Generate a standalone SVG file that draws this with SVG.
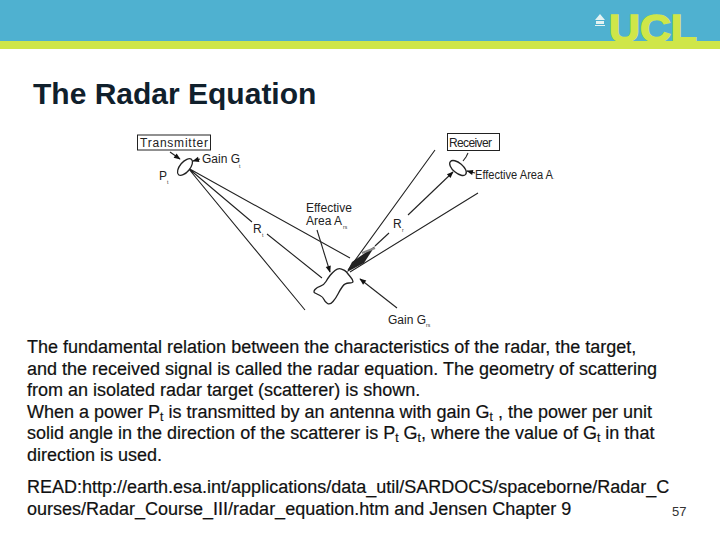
<svg xmlns="http://www.w3.org/2000/svg" width="720" height="540" viewBox="0 0 720 540">
<defs>
<style>
.b{font-family:"Liberation Sans",Arial,sans-serif;font-size:18px;fill:#111;stroke:#111;stroke-width:.2}
.l{font-family:"Liberation Sans",Arial,sans-serif;font-size:12px;fill:#222}
.s{font-family:"Liberation Sans",Arial,sans-serif;font-size:5px;fill:#333}
.w{fill:none;stroke:#222;stroke-width:1.1}
</style>
<marker id="a" viewBox="0 0 10 10" refX="9" refY="5" markerWidth="7" markerHeight="6" orient="auto"><path d="M0 1L10 5L0 9Z" fill="#111"/></marker>
</defs>
<rect width="720" height="540" fill="#fff"/>
<g id="header">
<rect width="720" height="41" fill="#4fb1d0"/>
<rect y="41" width="720" height="8" fill="#cfe649"/>
<path d="M595 20L600 14L605 20ZM596 21H604V24H596ZM595 25H605V26H595Z" fill="#e4f3f2"/>
<text x="609" y="42" textLength="88" lengthAdjust="spacingAndGlyphs" font-family="'Liberation Sans',Arial,sans-serif" font-weight="700" font-size="39" fill="#cfe649" stroke="#cfe649" stroke-width="1.500">UCL</text>
</g>
<text x="33" y="104" font-family="'Liberation Sans',Arial,sans-serif" font-weight="700" font-size="30" fill="#10202c">The Radar Equation</text>
<g id="connectors" class="conn">
<path class="w" d="M188 168L350 258M188 168L252 222M267 234L322 278M188 168L305 310M348 270L435 150M350 272L478 193"/>
<path class="w" d="M170 152L180 159" marker-end="url(#a)"/>
<path class="w" d="M200 159L193 161" marker-end="url(#a)"/>
<path class="w" d="M317 230L330 272" marker-end="url(#a)"/>
<path class="w" d="M397 308L360 279" marker-end="url(#a)"/>
<path class="w" d="M408 215L453 172" marker-end="url(#a)"/>
<path class="w" d="M389 233L375 246"/>
<path d="M347 272L352 262L375 246L364 263Z" fill="#222"/>
<path d="M362 253L375 248" stroke="#888" stroke-width="2" fill="none"/>
<path class="w" d="M468 153L466 157L463 161"/>
<path class="w" d="M475 173L467 171" marker-end="url(#a)"/>
</g>
<g id="transmitter">
<rect x="137.500" y="135" width="73" height="15" fill="#fff" stroke="#222"/>
<text class="l" x="140" y="147" textLength="68" lengthAdjust="spacing">Transmitter</text>
<ellipse cx="185" cy="167" rx="10" ry="5" transform="rotate(-50 185 167)" fill="#fff" stroke="#222" stroke-width="1.300"/>
<text class="l" x="202" y="163">Gain G</text>
<text class="s" x="239" y="168">t</text>
<text class="l" x="159" y="180">P</text>
<text class="s" x="167" y="184">t</text>
</g>
<g id="receiver">
<rect x="447.500" y="133.500" width="52" height="17" fill="#fff" stroke="#222"/>
<text class="l" x="449" y="147" textLength="43" lengthAdjust="spacing">Receiver</text>
<ellipse cx="458" cy="168" rx="10" ry="5" transform="rotate(40 458 168)" fill="#fff" stroke="#222" stroke-width="1.300"/>
<text class="l" x="475" y="179" textLength="78" lengthAdjust="spacingAndGlyphs">Effective Area A</text>
<text class="s" x="553" y="179">.</text>
</g>
<g id="target">
<path d="M315 289.500Q317 287 320.500 286Q324 285 326 281.500Q328 278 330 275.500Q332 273 335 270.500Q338 268 341.500 269Q345 270 346.500 272Q348 274 350.500 277Q353 280 353 281.500Q353 283 349 283Q345 283 342.500 286.500Q340 290 338 294Q336 298 333 301.500Q330 305 327.500 303.500Q325 302 324 299.500Q323 297 320 295.500Q317 294 315 293Q313 292 315 289.500Z" fill="#fff" stroke="#222" stroke-width="1.300"/>
<text class="l" x="306" y="212">Effective</text>
<text class="l" x="306" y="225">Area A</text>
<text class="s" x="343" y="229">rs</text>
<text class="l" x="253" y="233">R</text>
<text class="s" x="262" y="237">t</text>
<text class="l" x="393" y="228">R</text>
<text class="s" x="402" y="232">r</text>
<text class="l" x="388" y="324">Gain G</text>
<text class="s" x="426" y="327">rs</text>
</g>
<g id="body">
<text class="b" x="27" y="353">The fundamental relation between the characteristics of the radar, the target,</text>
<text class="b" x="27" y="375">and the received signal is called the radar equation. The geometry of scattering</text>
<text class="b" x="27" y="396">from an isolated radar target (scatterer) is shown.</text>
<text class="b" x="27" y="418">When a power P<tspan font-size="12" dy="3">t</tspan><tspan dy="-3"> is transmitted by an antenna with gain G</tspan><tspan font-size="12" dy="3">t</tspan><tspan dy="-3"> , the power per unit</tspan></text>
<text class="b" x="27" y="439">solid angle in the direction of the scatterer is P<tspan font-size="12" dy="3">t</tspan><tspan dy="-3"> G</tspan><tspan font-size="12" dy="3">t</tspan><tspan dy="-3">, where the value of G</tspan><tspan font-size="12" dy="3">t</tspan><tspan dy="-3"> in that</tspan></text>
<text class="b" x="27" y="461">direction is used.</text>
<text class="b" x="27" y="493">READ:http://earth.esa.int/applications/data_util/SARDOCS/spaceborne/Radar_C</text>
<text class="b" x="27" y="515">ourses/Radar_Course_III/radar_equation.htm and Jensen Chapter 9</text>
<text x="672" y="516" font-family="'Liberation Sans',Arial,sans-serif" font-size="13" fill="#333">57</text>
</g>
</svg>
